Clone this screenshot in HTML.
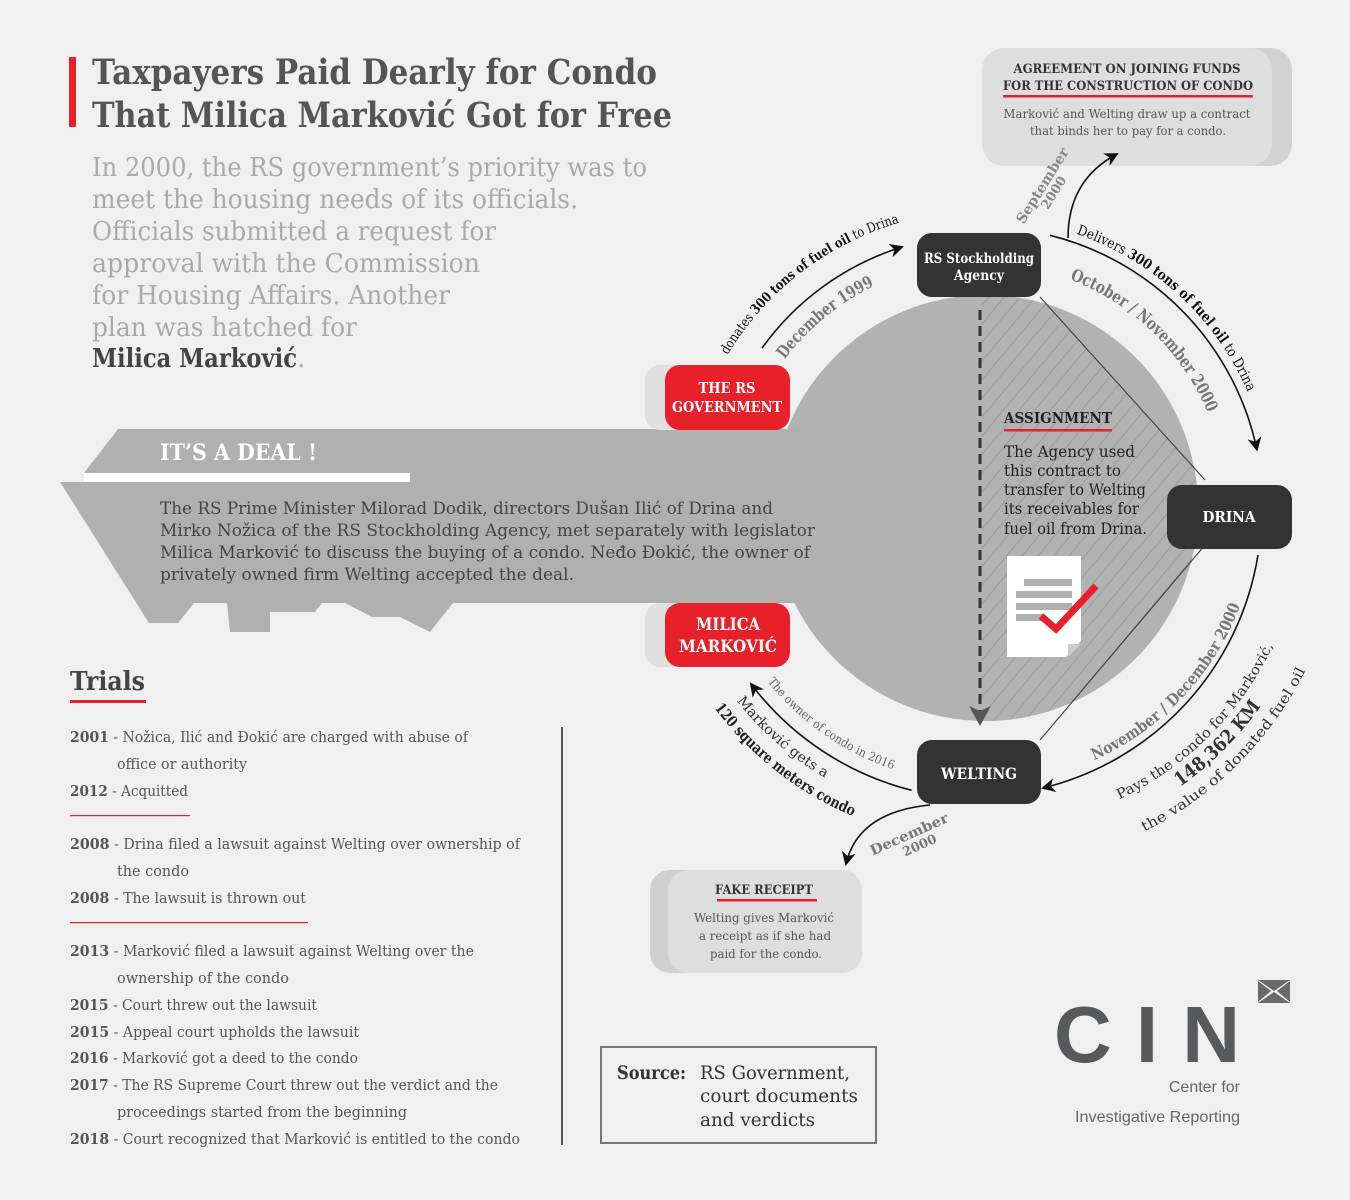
<!DOCTYPE html>
<html><head><meta charset="utf-8"><style>
html,body{margin:0;padding:0;background:#f0f0f0}
svg{display:block}
text{font-family:"DejaVu Serif","Liberation Serif",serif}
.s{font-family:"Liberation Sans",sans-serif}
</style></head><body>
<svg width="1350" height="1200" viewBox="0 0 1350 1200" xmlns="http://www.w3.org/2000/svg">
<defs>
<marker id="ah" markerUnits="userSpaceOnUse" markerWidth="16" markerHeight="16" refX="12" refY="8" orient="auto"><path d="M0,1 L14,8 L0,15 L4,8 z" fill="#111"/></marker>
<marker id="ahg" markerUnits="userSpaceOnUse" markerWidth="22" markerHeight="22" refX="16" refY="11" orient="auto"><path d="M0,0 L20,11 L0,22 L5,11 z" fill="#555"/></marker>
<pattern id="hatch" patternUnits="userSpaceOnUse" width="12" height="12" patternTransform="rotate(40)"><rect width="12" height="12" fill="#b2b2b2"/><line x1="0" y1="0" x2="0" y2="12" stroke="#8e8e8e" stroke-width="1.2"/></pattern>
<clipPath id="hc"><polygon points="982,297 1040,297 1205,480 1205,545 1040,740 982,740"/></clipPath>
<path id="p1" d="M727.5,355 A297,297 0 0 1 956.1,212.1"/>
<path id="p2" d="M784.7,359.4 A247,247 0 0 1 939.1,264.8"/>
<path id="p3" d="M1076.4,233.8 A290,290 0 0 1 1262.1,432.9"/>
<path id="p4" d="M1069.8,279.3 A245,245 0 0 1 1218.7,444.6"/>
<path id="p5" d="M1094.3,760.1 A276,276 0 0 0 1253.8,555.9"/>
<path id="p6" d="M1081.5,814.3 A322,322 0 0 0 1288.2,607.5"/>
<path id="p7" d="M1087.7,833.3 A342,342 0 0 0 1307.3,613.7"/>
<path id="p8" d="M1093.9,852.3 A362,362 0 0 0 1326.3,619.9"/>
<path id="p9" d="M767.5,681.7 A276,276 0 0 0 934.1,779.8"/>
<path id="p10" d="M692.7,624.9 A312,312 0 0 0 906.5,810.7"/>
<path id="p11" d="M676.9,643.8 A334,334 0 0 0 924,836.9"/>
</defs>

<!-- title -->
<rect x="69" y="57" width="7" height="70" fill="#e8202a"/>
<text x="92" y="84" font-size="35" font-weight="bold" fill="#555" textLength="565" lengthAdjust="spacingAndGlyphs">Taxpayers Paid Dearly for Condo</text>
<text x="92" y="127" font-size="35" font-weight="bold" fill="#555" textLength="580" lengthAdjust="spacingAndGlyphs">That Milica Marković Got for Free</text>
<g font-size="26" fill="#aaa">
<text x="92" y="176" textLength="555" lengthAdjust="spacingAndGlyphs">In 2000, the RS government’s priority was to</text>
<text x="92" y="208" textLength="486" lengthAdjust="spacingAndGlyphs">meet the housing needs of its officials.</text>
<text x="92" y="240" textLength="404" lengthAdjust="spacingAndGlyphs">Officials submitted a request for</text>
<text x="92" y="272" textLength="388" lengthAdjust="spacingAndGlyphs">approval with the Commission</text>
<text x="92" y="304" textLength="358" lengthAdjust="spacingAndGlyphs">for Housing Affairs. Another</text>
<text x="92" y="336" textLength="265" lengthAdjust="spacingAndGlyphs">plan was hatched for</text>
<text x="92" y="367"><tspan font-weight="bold" fill="#444" textLength="205" lengthAdjust="spacingAndGlyphs">Milica Marković</tspan>.</text>
</g>

<!-- circle -->
<circle cx="985" cy="508" r="213" fill="#b2b2b2"/>
<g clip-path="url(#hc)"><circle cx="985" cy="508" r="213" fill="url(#hatch)"/></g>
<line x1="1040" y1="297" x2="1205" y2="480" stroke="#444" stroke-width="1.2"/>
<line x1="1205" y1="545" x2="1040" y2="740" stroke="#444" stroke-width="1.2"/>

<!-- key -->
<polygon fill="#b0b0b0" points="118,429 800,429 800,603 453,603 430,632 400,617 372,617 345,603 322,603 315,612 270,612 270,632 230,632 227,603 194,603 178,623 149,623 60,482 410,482 410,473 84,473"/>
<rect x="84" y="473" width="326" height="9" fill="#fff"/>
<text x="160" y="460" font-size="22" font-weight="bold" fill="#fff" textLength="157" lengthAdjust="spacingAndGlyphs">IT’S A DEAL !</text>
<g font-size="17" fill="#444">
<text x="160" y="514" textLength="613" lengthAdjust="spacingAndGlyphs">The RS Prime Minister Milorad Dodik, directors Dušan Ilić of Drina and</text>
<text x="160" y="536" textLength="655" lengthAdjust="spacingAndGlyphs">Mirko Nožica of the RS Stockholding Agency, met separately with legislator</text>
<text x="160" y="558" textLength="650" lengthAdjust="spacingAndGlyphs">Milica Marković to discuss the buying of a condo. Neđo Đokić, the owner of</text>
<text x="160" y="580" textLength="414" lengthAdjust="spacingAndGlyphs">privately owned firm Welting accepted the deal.</text>
</g>

<!-- dashed arrow -->
<line x1="980" y1="310" x2="980" y2="722" stroke="#333" stroke-width="3" stroke-dasharray="10 6" marker-end="url(#ahg)"/>

<!-- assignment -->
<text x="1004" y="423" font-size="15" font-weight="bold" fill="#222" textLength="108" lengthAdjust="spacingAndGlyphs">ASSIGNMENT</text>
<rect x="1004" y="429" width="108" height="2.5" fill="#e8202a"/>
<g font-size="16" fill="#222">
<text x="1004" y="457" textLength="131" lengthAdjust="spacingAndGlyphs">The Agency used</text>
<text x="1004" y="476" textLength="117" lengthAdjust="spacingAndGlyphs">this contract to</text>
<text x="1004" y="495" textLength="142" lengthAdjust="spacingAndGlyphs">transfer to Welting</text>
<text x="1004" y="514" textLength="135" lengthAdjust="spacingAndGlyphs">its receivables for</text>
<text x="1004" y="534" textLength="143" lengthAdjust="spacingAndGlyphs">fuel oil from Drina.</text>
</g>
<!-- doc icon -->
<path d="M1007,556 H1081 V641 L1066,657 H1007 z" fill="#fff"/>
<path d="M1068,657 L1081,644 H1068 z" fill="#ccc"/>
<rect x="1024" y="579" width="48" height="7" fill="#b0b0b0"/>
<rect x="1016" y="591" width="56" height="7" fill="#b0b0b0"/>
<rect x="1016" y="603" width="56" height="7" fill="#b0b0b0"/>
<rect x="1016" y="614" width="28" height="7" fill="#b0b0b0"/>
<polyline points="1041,616 1056,629 1096,586" fill="none" stroke="#e8202a" stroke-width="7"/>

<!-- nodes -->
<rect x="645" y="365" width="120" height="65" rx="15" fill="#e0e0e0"/>
<rect x="665" y="365" width="125" height="65" rx="15" fill="#e8202a"/>
<text x="727" y="393" font-size="15" font-weight="bold" fill="#fff" text-anchor="middle" textLength="57" lengthAdjust="spacingAndGlyphs">THE RS</text>
<text x="727" y="412" font-size="15" font-weight="bold" fill="#fff" text-anchor="middle" textLength="110" lengthAdjust="spacingAndGlyphs">GOVERNMENT</text>

<rect x="645" y="603" width="120" height="64" rx="15" fill="#e0e0e0"/>
<rect x="665" y="603" width="125" height="64" rx="15" fill="#e8202a"/>
<text x="728" y="630" font-size="17" font-weight="bold" fill="#fff" text-anchor="middle" textLength="64" lengthAdjust="spacingAndGlyphs">MILICA</text>
<text x="728" y="652" font-size="17" font-weight="bold" fill="#fff" text-anchor="middle" textLength="98" lengthAdjust="spacingAndGlyphs">MARKOVIĆ</text>

<rect x="917" y="233" width="124" height="64" rx="15" fill="#333"/>
<text x="979" y="263" font-size="14" font-weight="bold" fill="#fff" text-anchor="middle" textLength="110" lengthAdjust="spacingAndGlyphs">RS Stockholding</text>
<text x="979" y="280" font-size="14" font-weight="bold" fill="#fff" text-anchor="middle" textLength="50" lengthAdjust="spacingAndGlyphs">Agency</text>

<rect x="1167" y="485" width="125" height="64" rx="15" fill="#333"/>
<text x="1229" y="522" font-size="15" font-weight="bold" fill="#fff" text-anchor="middle" textLength="53" lengthAdjust="spacingAndGlyphs">DRINA</text>

<rect x="917" y="740" width="124" height="64" rx="15" fill="#333"/>
<text x="979" y="779" font-size="16" font-weight="bold" fill="#fff" text-anchor="middle" textLength="76" lengthAdjust="spacingAndGlyphs">WELTING</text>

<!-- agreement box -->
<rect x="1000" y="48" width="292" height="118" rx="22" fill="#d2d2d2"/>
<rect x="982" y="48" width="290" height="118" rx="22" fill="#dedede"/>
<text x="1127" y="73" font-size="13" font-weight="bold" fill="#333" text-anchor="middle" textLength="227" lengthAdjust="spacingAndGlyphs">AGREEMENT ON JOINING FUNDS</text>
<text x="1128" y="90" font-size="13" font-weight="bold" fill="#333" text-anchor="middle" textLength="250" lengthAdjust="spacingAndGlyphs">FOR THE CONSTRUCTION OF CONDO</text>
<rect x="1003" y="95" width="250" height="2.5" fill="#e8202a"/>
<text x="1127" y="118" font-size="12.5" fill="#555" text-anchor="middle" textLength="247" lengthAdjust="spacingAndGlyphs">Marković and Welting draw up a contract</text>
<text x="1128" y="135" font-size="12.5" fill="#555" text-anchor="middle" textLength="196" lengthAdjust="spacingAndGlyphs">that binds her to pay for a condo.</text>

<!-- fake receipt -->
<rect x="650" y="870" width="200" height="103" rx="20" fill="#cfcfcf"/>
<rect x="668" y="870" width="194" height="103" rx="20" fill="#dedede"/>
<text x="764" y="894" font-size="13" font-weight="bold" fill="#333" text-anchor="middle" textLength="98" lengthAdjust="spacingAndGlyphs">FAKE RECEIPT</text>
<rect x="717" y="899" width="100" height="2.5" fill="#e8202a"/>
<g font-size="12.5" fill="#555" text-anchor="middle">
<text x="764" y="922" textLength="140" lengthAdjust="spacingAndGlyphs">Welting gives Marković</text>
<text x="765" y="940" textLength="132" lengthAdjust="spacingAndGlyphs">a receipt as if she had</text>
<text x="766" y="958" textLength="112" lengthAdjust="spacingAndGlyphs">paid for the condo.</text>
</g>

<!-- arrows -->
<path d="M762,348.1 A272,272 0 0 1 902,247" fill="none" stroke="#111" stroke-width="1.6" marker-end="url(#ah)"/>
<path d="M1068,238 Q1068,180 1117,154" fill="none" stroke="#111" stroke-width="1.6" marker-end="url(#ah)"/>
<path d="M1050,235.3 A281,281 0 0 1 1256.9,449.6" fill="none" stroke="#111" stroke-width="1.6" marker-end="url(#ah)"/>
<path d="M1258,555 A287,287 0 0 1 1043,788" fill="none" stroke="#111" stroke-width="1.6" marker-end="url(#ah)"/>
<path d="M911.6,790.3 A291,291 0 0 1 751,684" fill="none" stroke="#111" stroke-width="1.6" marker-end="url(#ah)"/>
<path d="M930,805 Q858,812 846,864" fill="none" stroke="#111" stroke-width="1.6" marker-end="url(#ah)"/>

<!-- arc labels -->
<text font-size="13.5" fill="#111"><textPath href="#p1" textLength="222" lengthAdjust="spacingAndGlyphs">donates <tspan font-weight="bold">300 tons of fuel oil</tspan> to Drina</textPath></text>
<text font-size="17" font-weight="bold" fill="#777"><textPath href="#p2" textLength="117" lengthAdjust="spacingAndGlyphs">December 1999</textPath></text>
<text font-size="14" fill="#111"><textPath href="#p3" textLength="240" lengthAdjust="spacingAndGlyphs">Delivers <tspan font-weight="bold">300 tons of fuel oil</tspan> to Drina</textPath></text>
<text font-size="17" font-weight="bold" fill="#777"><textPath href="#p4" textLength="197" lengthAdjust="spacingAndGlyphs">October / November 2000</textPath></text>
<text font-size="16" font-weight="bold" fill="#777"><textPath href="#p5" textLength="218" lengthAdjust="spacingAndGlyphs">November / December 2000</textPath></text>
<text font-size="14" fill="#333" text-anchor="middle"><textPath href="#p6" startOffset="50%" textLength="222" lengthAdjust="spacingAndGlyphs">Pays the condo for Marković,</textPath></text>
<text font-size="19" font-weight="bold" fill="#333" text-anchor="middle"><textPath href="#p7" startOffset="50%" textLength="115" lengthAdjust="spacingAndGlyphs">148,362 KM</textPath></text>
<text font-size="14" fill="#333" text-anchor="middle"><textPath href="#p8" startOffset="50%" textLength="232" lengthAdjust="spacingAndGlyphs">the value of donated fuel oil</textPath></text>
<text font-size="12" fill="#666"><textPath href="#p9" textLength="155" lengthAdjust="spacingAndGlyphs">The owner of condo in 2016</textPath></text>
<text font-size="14" fill="#333" text-anchor="middle"><textPath href="#p10" startOffset="50%" textLength="118" lengthAdjust="spacingAndGlyphs">Marković gets a</textPath></text>
<text font-size="15" font-weight="bold" fill="#222" text-anchor="middle"><textPath href="#p11" startOffset="50%" textLength="178" lengthAdjust="spacingAndGlyphs">120 square meters condo</textPath></text>

<g transform="translate(1043,186) rotate(-58)" font-size="14" font-weight="bold" fill="#888" text-anchor="middle">
<text x="0" y="4" textLength="86" lengthAdjust="spacingAndGlyphs">September</text>
<text x="0" y="17" font-size="13" textLength="36" lengthAdjust="spacingAndGlyphs">2000</text>
</g>
<g transform="translate(909,834) rotate(-24)" font-size="14" font-weight="bold" fill="#777" text-anchor="middle">
<text x="0" y="5" textLength="84" lengthAdjust="spacingAndGlyphs">December</text>
<text x="5" y="19" font-size="13" textLength="36" lengthAdjust="spacingAndGlyphs">2000</text>
</g>

<!-- trials -->
<text x="70" y="690" font-size="26" font-weight="bold" fill="#444" textLength="75" lengthAdjust="spacingAndGlyphs">Trials</text>
<rect x="70" y="700" width="76" height="3" fill="#e8202a"/>
<line x1="562" y1="727" x2="562" y2="1145" stroke="#555" stroke-width="2"/>
<g font-size="15" fill="#555">
<text x="70" y="742" textLength="398" lengthAdjust="spacingAndGlyphs"><tspan font-weight="bold">2001</tspan> - Nožica, Ilić and Đokić are charged with abuse of</text>
<text x="117" y="769" textLength="130" lengthAdjust="spacingAndGlyphs">office or authority</text>
<text x="70" y="796" textLength="118" lengthAdjust="spacingAndGlyphs"><tspan font-weight="bold">2012</tspan> - Acquitted</text>
<text x="70" y="849" textLength="450" lengthAdjust="spacingAndGlyphs"><tspan font-weight="bold">2008</tspan> - Drina filed a lawsuit against Welting over ownership of</text>
<text x="117" y="876" textLength="72" lengthAdjust="spacingAndGlyphs">the condo</text>
<text x="70" y="903" textLength="236" lengthAdjust="spacingAndGlyphs"><tspan font-weight="bold">2008</tspan> - The lawsuit is thrown out</text>
<text x="70" y="956" textLength="404" lengthAdjust="spacingAndGlyphs"><tspan font-weight="bold">2013</tspan> - Marković filed a lawsuit against Welting over the</text>
<text x="117" y="983" textLength="172" lengthAdjust="spacingAndGlyphs">ownership of the condo</text>
<text x="70" y="1010" textLength="247" lengthAdjust="spacingAndGlyphs"><tspan font-weight="bold">2015</tspan> - Court threw out the lawsuit</text>
<text x="70" y="1037" textLength="289" lengthAdjust="spacingAndGlyphs"><tspan font-weight="bold">2015</tspan> - Appeal court upholds the lawsuit</text>
<text x="70" y="1063" textLength="288" lengthAdjust="spacingAndGlyphs"><tspan font-weight="bold">2016</tspan> - Marković got a deed to the condo</text>
<text x="70" y="1090" textLength="428" lengthAdjust="spacingAndGlyphs"><tspan font-weight="bold">2017</tspan> - The RS Supreme Court threw out the verdict and the</text>
<text x="117" y="1117" textLength="290" lengthAdjust="spacingAndGlyphs">proceedings started from the beginning</text>
<text x="70" y="1144" textLength="450" lengthAdjust="spacingAndGlyphs"><tspan font-weight="bold">2018</tspan> - Court recognized that Marković is entitled to the condo</text>
</g>
<rect x="70" y="815" width="120" height="1.2" fill="#e8202a"/>
<rect x="70" y="922" width="238" height="1.2" fill="#e8202a"/>

<!-- source -->
<rect x="601" y="1047" width="275" height="96" fill="none" stroke="#777" stroke-width="2"/>
<text x="617" y="1079" font-size="19" font-weight="bold" fill="#333" textLength="69" lengthAdjust="spacingAndGlyphs">Source:</text>
<g font-size="19" fill="#333">
<text x="700" y="1079" textLength="150" lengthAdjust="spacingAndGlyphs">RS Government,</text>
<text x="700" y="1102" textLength="158" lengthAdjust="spacingAndGlyphs">court documents</text>
<text x="700" y="1126" textLength="115" lengthAdjust="spacingAndGlyphs">and verdicts</text>
</g>

<!-- CIN logo -->
<text class="s" x="1054" y="1062" font-size="80" font-weight="bold" fill="#58595b" textLength="186" lengthAdjust="spacing">CIN</text>
<g fill="#6a6a6a">
<polygon points="1258,980 1290,980 1274,991"/>
<polygon points="1258,1003 1290,1003 1274,992"/>
<polygon points="1258,981 1258,1002 1271,991"/>
<polygon points="1290,981 1290,1002 1277,991"/>
</g>
<text class="s" x="1240" y="1092" font-size="16" fill="#666" text-anchor="end">Center for</text>
<text class="s" x="1240" y="1122" font-size="16" fill="#666" text-anchor="end" textLength="165" lengthAdjust="spacingAndGlyphs">Investigative Reporting</text>
</svg>
</body></html>
